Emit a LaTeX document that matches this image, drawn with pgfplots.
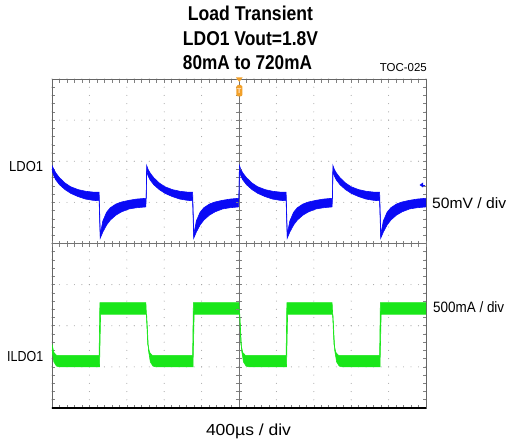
\documentclass[border=0pt]{standalone}
\usepackage{fontspec}
\setmainfont{Liberation Sans}
\usepackage{graphicx}
\usepackage{pgfplots}
\pgfplotsset{compat=1.18}
\usepgfplotslibrary{fillbetween}
\definecolor{traceblue}{RGB}{10,10,245}
\definecolor{tracegreen}{RGB}{25,230,25}
\definecolor{trigorange}{RGB}{242,160,40}
\newcommand{\fitw}[3]{\resizebox{#1}{\height}{\fontsize{#2}{#2}\selectfont #3}}
\begin{document}
\begin{tikzpicture}[x=1pt,y=1pt]
% centre cross with ticks
\begin{axis}[at={(52pt,32pt)}, anchor=south west, scale only axis, width=374pt, height=329pt,
 xmin=-5,xmax=5,ymin=-4,ymax=4, axis lines=middle,
 axis line style={-, draw=black!55, line width=0.9pt},
 xtick={-5,...,5}, ytick={-4,...,4}, minor x tick num=4, minor y tick num=4, tick align=center,
 major tick length=6pt, minor tick length=6pt, tick style={black!50, line width=0.6pt},
 xticklabels={}, yticklabels={}]
\end{axis}
% main screen
\begin{axis}[at={(52pt,32pt)}, anchor=south west, scale only axis, width=374pt, height=329pt,
 xmin=0,xmax=10,ymin=-4,ymax=4,
 axis line style={draw=black!60, line width=1pt},
 xtick={0,...,10}, ytick={-4,...,4}, minor x tick num=4, minor y tick num=4, tick align=inside,
 xtick pos=both, ytick pos=both,
 major tick length=3.5pt, minor tick length=3.5pt, tick style={black!50, line width=0.6pt},
 xticklabels={}, yticklabels={},
 grid=major,
 x grid style={draw=black!35, line width=1.1pt, dash pattern=on 0pt off 8.225pt, line cap=round},
 y grid style={draw=black!35, line width=1.1pt, dash pattern=on 0pt off 7.48pt, line cap=round}]
% LDO1 output voltage (divisions), upper and lower envelope of the noisy trace
\addplot[name path=bu, draw=traceblue, line width=0.6pt] coordinates {
(0,1.90) (0.05,1.80) (0.10,1.72) (0.20,1.60) (0.35,1.47) (0.50,1.38) (0.70,1.31) (0.90,1.27) (1.10,1.25) (1.26,1.25)
(1.29,0.22) (1.36,0.55) (1.46,0.76) (1.56,0.87) (1.71,0.96) (1.86,1.01) (2.06,1.05) (2.26,1.08) (2.52,1.10)
(2.53,1.90) (2.57,1.80) (2.62,1.72) (2.72,1.60) (2.87,1.47) (3.02,1.38) (3.22,1.31) (3.42,1.27) (3.62,1.25) (3.76,1.25)
(3.79,0.22) (3.86,0.55) (3.96,0.76) (4.06,0.87) (4.21,0.96) (4.36,1.01) (4.56,1.05) (4.76,1.08) (5.00,1.10)
(5.01,1.90) (5.05,1.80) (5.10,1.72) (5.20,1.60) (5.35,1.47) (5.50,1.38) (5.70,1.31) (5.90,1.27) (6.10,1.25) (6.26,1.25)
(6.29,0.22) (6.36,0.55) (6.46,0.76) (6.56,0.87) (6.71,0.96) (6.86,1.01) (7.06,1.05) (7.26,1.08) (7.50,1.10)
(7.51,1.90) (7.55,1.80) (7.60,1.72) (7.70,1.60) (7.85,1.47) (8.00,1.38) (8.20,1.31) (8.40,1.27) (8.60,1.25) (8.76,1.25)
(8.79,0.22) (8.86,0.55) (8.96,0.76) (9.06,0.87) (9.21,0.96) (9.36,1.01) (9.56,1.05) (9.76,1.08) (10.00,1.10)
};
\addplot[name path=bl, draw=traceblue, line width=0.6pt] coordinates {
(0,1.78) (0.05,1.64) (0.10,1.55) (0.20,1.43) (0.35,1.31) (0.50,1.22) (0.70,1.14) (0.90,1.08) (1.10,1.05) (1.26,1.04)
(1.29,0.13) (1.36,0.28) (1.46,0.45) (1.56,0.57) (1.71,0.69) (1.86,0.77) (2.06,0.84) (2.26,0.87) (2.51,0.89)
(2.535,1.78) (2.57,1.64) (2.62,1.55) (2.72,1.43) (2.87,1.31) (3.02,1.22) (3.22,1.14) (3.42,1.08) (3.62,1.05) (3.76,1.04)
(3.79,0.13) (3.86,0.28) (3.96,0.45) (4.06,0.57) (4.21,0.69) (4.36,0.77) (4.56,0.84) (4.76,0.87) (4.99,0.89)
(5.015,1.78) (5.05,1.64) (5.10,1.55) (5.20,1.43) (5.35,1.31) (5.50,1.22) (5.70,1.14) (5.90,1.08) (6.10,1.05) (6.26,1.04)
(6.29,0.13) (6.36,0.28) (6.46,0.45) (6.56,0.57) (6.71,0.69) (6.86,0.77) (7.06,0.84) (7.26,0.87) (7.49,0.89)
(7.515,1.78) (7.55,1.64) (7.60,1.55) (7.70,1.43) (7.85,1.31) (8.00,1.22) (8.20,1.14) (8.40,1.08) (8.60,1.05) (8.76,1.04)
(8.79,0.13) (8.86,0.28) (8.96,0.45) (9.06,0.57) (9.21,0.69) (9.36,0.77) (9.56,0.84) (9.76,0.87) (10.00,0.89)
};
\addplot[traceblue] fill between[of=bu and bl];
% ILDO1 load current (divisions)
\addplot[name path=gu, draw=tracegreen, line width=0.6pt] coordinates {
(0,-2.45) (0.05,-2.65) (0.12,-2.72) (1.26,-2.72) (1.28,-1.44) (2.51,-1.44) (2.56,-2.45) (2.61,-2.65) (2.68,-2.72)
(3.76,-2.72) (3.78,-1.44) (5.00,-1.44) (5.05,-2.45) (5.10,-2.65) (5.17,-2.72) (6.26,-2.72) (6.28,-1.44) (7.49,-1.44)
(7.54,-2.45) (7.59,-2.65) (7.66,-2.72) (8.76,-2.72) (8.78,-1.44) (10,-1.44)
};
\addplot[name path=gl, draw=tracegreen, line width=0.6pt] coordinates {
(0,-2.60) (0.05,-2.88) (0.12,-2.98) (0.20,-3.00) (1.27,-3.00) (1.30,-1.72) (2.53,-1.72) (2.58,-2.60) (2.63,-2.88)
(2.70,-2.98) (2.78,-3.00) (3.77,-3.00) (3.80,-1.72) (5.02,-1.72) (5.07,-2.60) (5.12,-2.88) (5.19,-2.98) (5.27,-3.00)
(6.27,-3.00) (6.30,-1.72) (7.51,-1.72) (7.56,-2.60) (7.61,-2.88) (7.68,-2.98) (7.76,-3.00) (8.77,-3.00) (8.80,-1.72) (10,-1.72)
};
\addplot[tracegreen] fill between[of=gu and gl];
\draw[black, line width=1.6pt] (rel axis cs:0,0) -- (rel axis cs:1,0);
\end{axis}
% trigger and channel markers
\fill[trigorange] (236,362.5) -- (242.6,362.5) -- (239.3,358) -- cycle;
\fill[trigorange, rounded corners=1.5pt] (236.3,343.5) rectangle (242.3,355);
\node[inner sep=0, text=orange!20] at (239.3,349.3) {\fontsize{7}{7}\selectfont\bfseries T};
\fill[traceblue] (419.5,255) -- (423,257.5) -- (423,252.5) -- cycle;
\draw[traceblue, line width=0.8pt] (422,255) -- (425,255);
% texts
\node[anchor=base, inner sep=0] at (250.5,419.3) {\fitw{125pt}{20}{\bfseries Load Transient}};
\node[anchor=base, inner sep=0] at (250.5,394.3) {\fitw{135pt}{20}{\bfseries LDO1 Vout=1.8V}};
\node[anchor=base, inner sep=0] at (247.5,370) {\fitw{129pt}{20}{\bfseries 80mA to 720mA}};
\node[anchor=base east, inner sep=0] at (427,368) {\fitw{47pt}{11.5}{TOC-025}};
\node[anchor=base west, inner sep=0] at (9,268) {\fitw{34pt}{14.5}{LDO1}};
\node[anchor=base west, inner sep=0] at (7,78) {\fitw{36pt}{14.5}{ILDO1}};
\node[anchor=base west, inner sep=0] at (432,231) {\fitw{74pt}{15}{50mV / div}};
\node[anchor=base west, inner sep=0] at (433,127) {\fitw{71pt}{15}{500mA / div}};
\node[anchor=base, inner sep=0] at (248.5,5) {\fitw{85pt}{16}{400µs / div}};
\pgfresetboundingbox
\path[use as bounding box] (0,0) rectangle (507,440);
\end{tikzpicture}
\end{document}
